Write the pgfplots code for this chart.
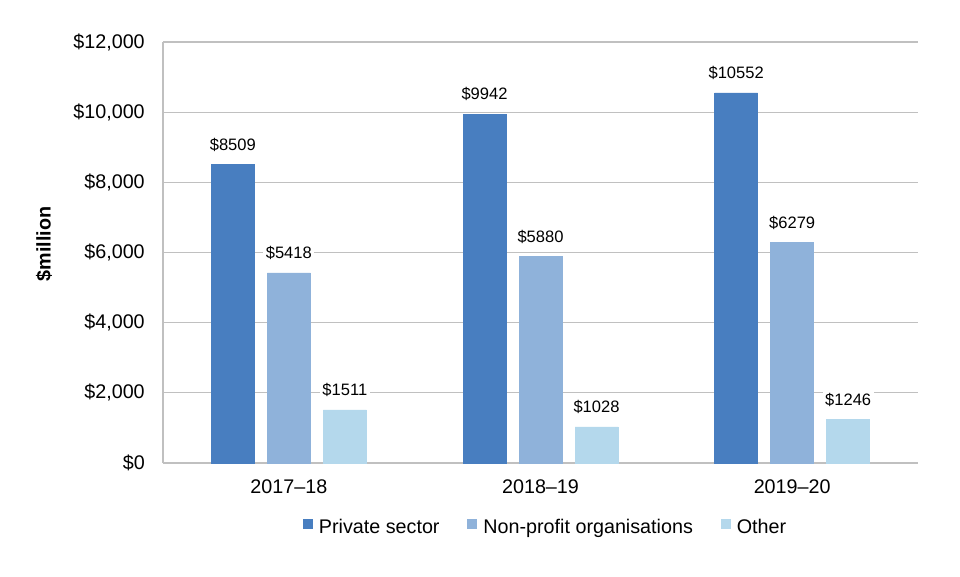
\documentclass[border=0pt]{standalone}
\usepackage{fontspec}
\setmainfont{Liberation Sans}
\usepackage{pgfplots}
\pgfplotsset{compat=1.18}

\definecolor{cPriv}{RGB}{72,126,192}
\definecolor{cNP}{RGB}{143,178,218}
\definecolor{cOther}{RGB}{180,216,236}
\definecolor{gridgray}{RGB}{192,192,192}

\newcommand{\tickfont}{\fontsize{14.8}{17}\selectfont}
\newcommand{\labfont}{\fontsize{12.4}{14}\selectfont}

\begin{document}
\begin{tikzpicture}
    \path[use as bounding box, fill=white] (0,0) rectangle (720pt,432pt);
    \begin{axis}[
            at={(122.25pt,84.75pt)},
            anchor=south west,
            scale only axis,
            width=566.25pt,
            height=315.75pt,
            ybar=9.75pt,
            bar width=32.25pt,
            xmin=-0.5, xmax=2.5,
            ymin=0, ymax=12000,
            enlarge x limits=false,
            enlarge y limits=false,
            scaled y ticks=false,
            axis lines*=left,
            axis line style={draw=gridgray, line width=0.9pt, -},
            major tick length=0pt,
            ymajorgrids,
            grid style={draw=gridgray, line width=0.9pt},
            xtick={0,1,2},
            xticklabels={2017–18, 2018–19, 2019–20},
            ytick={0,2000,4000,6000,8000,10000,12000},
            yticklabels={\$0, \$2{,}000, \$4{,}000, \$6{,}000, \$8{,}000, \$10{,}000, \$12{,}000},
            x tick label style={font=\tickfont, inner sep=0pt, anchor=north, yshift=-12pt},
            y tick label style={font=\tickfont, inner sep=0pt, anchor=east, xshift=-13.5pt},
            every axis y label/.style={at={(axis description cs:-0.1576,0.52)}, anchor=center, rotate=90},
            ylabel={\tickfont\bfseries \$million},
            /pgf/number format/assume math mode=true,
            nodes near coords={\$\pgfmathprintnumber[fixed,precision=0,1000 sep={}]{\pgfplotspointmeta}},
            every node near coord/.append style={font=\labfont, fill=white, inner sep=2pt, anchor=south, yshift=7.6pt, text=black},
            legend columns=3,
            legend style={
                    at={(axis description cs:0.507,-0.152)},
                    anchor=center,
                    draw=none,
                    font=\tickfont,
                    inner sep=0pt,
                    /tikz/every odd column/.append style={column sep=3pt},
                    /tikz/every even column/.append style={column sep=18.75pt}
                },
            legend image code/.code={\fill[#1] (0pt,-1.0pt) rectangle (6.75pt,5.75pt);},
        ]

        % Private sector
        \addplot[fill=cPriv, draw=cPriv] coordinates {(0,8509) (1,9942) (2,10552)};
        \addlegendentry{Private sector}

        % Non-profit organisations
        \addplot[fill=cNP, draw=cNP] coordinates {(0,5418) (1,5880) (2,6279)};
        \addlegendentry{Non-profit organisations}

        % Other
        \addplot[fill=cOther, draw=cOther] coordinates {(0,1511) (1,1028) (2,1246)};
        \addlegendentry{Other}

    \end{axis}
\end{tikzpicture}
\end{document}
